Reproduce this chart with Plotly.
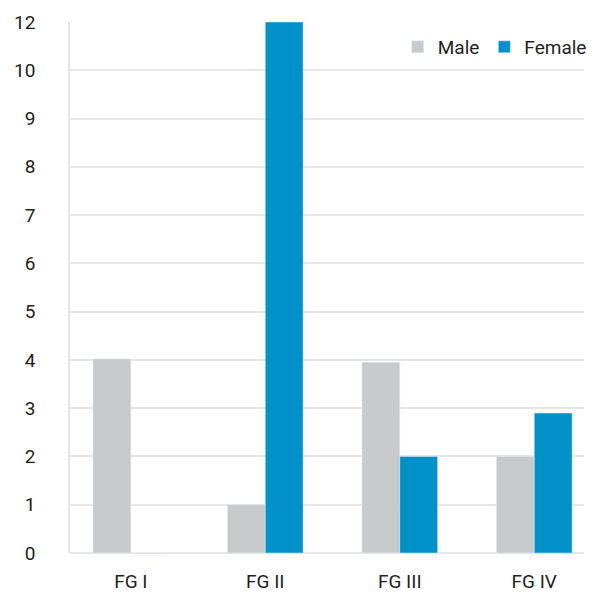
import plotly.graph_objects as go

categories = ["FG I", "FG II", "FG III", "FG IV"]
male = [4.02, 1, 3.95, 2]
female = [0, 11, 2, 2.9]  # axis positions; the top gridline is labelled "12" in the original
tick_vals = [0, 1, 2, 3, 4, 5, 6, 7, 8, 9, 10, 11]
tick_text = ["0", "1", "2", "3", "4", "5", "6", "7", "8", "9", "10", "12"]

FONT = "Roboto, Arial, sans-serif"

fig = go.Figure()
fig.add_trace(go.Bar(name="Male", x=categories, y=male, marker_color="#c8c9cb"))
fig.add_trace(go.Bar(name="Female", x=categories, y=female, marker_color="#0091c9"))

fig.update_layout(
    width=604, height=596,
    margin=dict(l=70, r=18, t=22, b=43),
    paper_bgcolor="white", plot_bgcolor="white",
    barmode="group", bargap=0.437, bargroupgap=0,
    font=dict(family=FONT, size=19, color="#231f20"),
    showlegend=True,
    legend=dict(orientation="h", x=1.015, xanchor="right", y=0.953, yanchor="middle",
                bgcolor="rgba(0,0,0,0)", font=dict(size=19), itemwidth=30,
                traceorder="normal"),
    xaxis=dict(range=[-0.452, 3.37], showgrid=False, showline=False, ticks="outside",
               ticklen=11, tickcolor="rgba(0,0,0,0)", zeroline=False, automargin=False),
    yaxis=dict(range=[0, 11], tickvals=tick_vals, ticktext=tick_text,
               showgrid=True, gridcolor="#e6e6e6", gridwidth=1.5,
               showline=True, linecolor="#e6e6e6", linewidth=1.5,
               zeroline=True, zerolinecolor="#e6e6e6", zerolinewidth=2,
               ticks="", ticklabelstandoff=29, automargin=False),
)

fig.write_html("out.html", config={"displayModeBar": False},
               post_script="document.body.style.margin='0';document.body.style.overflow='hidden';")
